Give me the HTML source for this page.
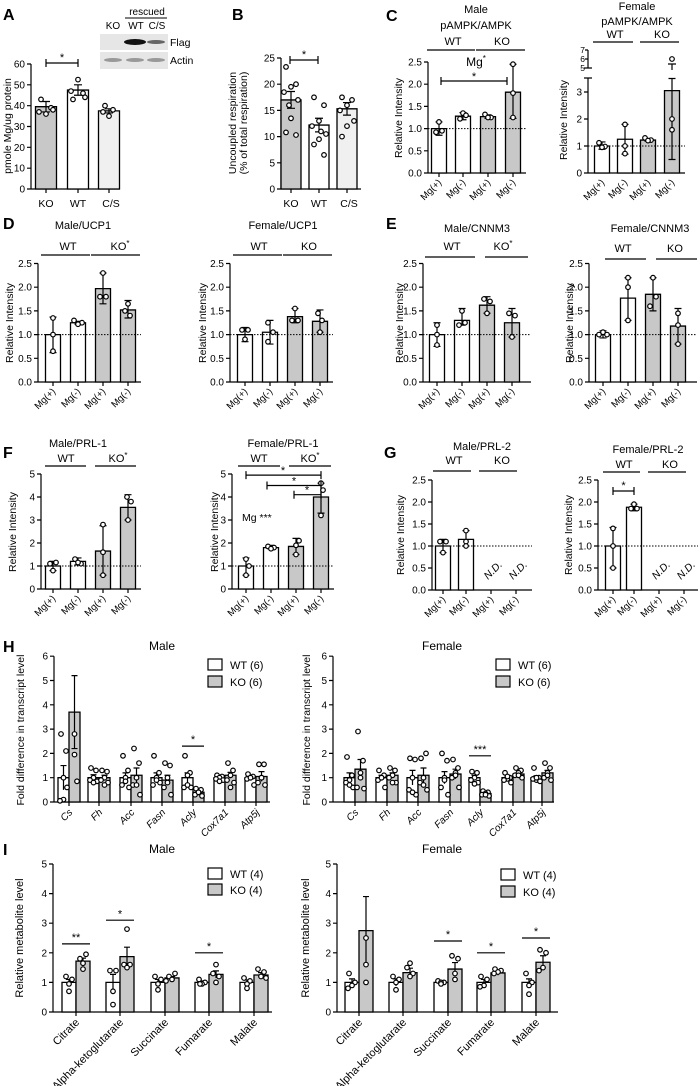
<!DOCTYPE html>
<html><head><meta charset="utf-8"><style>
html,body{margin:0;padding:0;background:#fff;}
svg{display:block;font-family:"Liberation Sans",Arial,sans-serif;}
text{font-size:10px;fill:#000;}
.s rect,.s path{vector-effect:non-scaling-stroke;stroke:#000;stroke-width:1.3;}
.s path{fill:none;stroke-width:1.2;}
.w{fill:#fff}.g{fill:#c8c8c8}.lg{fill:#f0f0f0}
circle{fill:#fff;stroke:#000;stroke-width:1.2;}
.ax{stroke:#000;stroke-width:1.2;fill:none;}
.dt{stroke:#000;stroke-width:1;stroke-dasharray:1.5,1.5;}
.e{text-anchor:end}.m{text-anchor:middle}
.L{font-weight:bold;font-size:16px}
.t{font-size:11px}
.yl{font-size:10.5px;text-anchor:middle}
.mg text{font-size:9.5px;text-anchor:end}
.it{font-style:italic}
</style></head><body>
<svg width="700" height="1086" viewBox="0 0 700 1086" xmlns="http://www.w3.org/2000/svg">
<!-- letters -->
<text x="3" y="20" class="L">A</text><text x="232" y="20" class="L">B</text><text x="386" y="21" class="L">C</text>
<text x="3" y="229" class="L">D</text><text x="386" y="229" class="L">E</text>
<text x="3" y="458" class="L">F</text><text x="384" y="458" class="L">G</text>
<text x="3" y="652" class="L">H</text><text x="3" y="855" class="L">I</text>

<!-- ===== A ===== -->
<g transform="translate(31,189)">
<path class="ax" d="M0,0.6V-125M-4,0H89M-4,-20.8H0M-4,-41.7H0M-4,-62.5H0M-4,-83.3H0M-4,-104.2H0M-4,-125H0M15,0V4M47,0V4M78,0V4"/>
<text x="-6" y="3.5" class="e">0</text><text x="-6" y="-17.3" class="e">10</text><text x="-6" y="-38.2" class="e">20</text><text x="-6" y="-59" class="e">30</text><text x="-6" y="-79.8" class="e">40</text><text x="-6" y="-100.7" class="e">50</text><text x="-6" y="-121.5" class="e">60</text>
<g class="s" transform="scale(1,-2.0833)">
<rect x="4.5" y="0" width="21" height="39.5" class="g"/><rect x="36.5" y="0" width="21" height="47.5" class="w"/><rect x="67.5" y="0" width="21" height="37.5" class="lg"/>
<path d="M15,37V42M11,42H19M11,37H19M47,45V50M43,50H51M43,45H51M78,36.5V38.5M74,38.5H82M74,36.5H82"/>
</g>
<circle cx="10" cy="-89.6" r="2.3"/><circle cx="20" cy="-81.2" r="2.3"/><circle cx="15" cy="-75" r="2.3"/><circle cx="8" cy="-77.1" r="2.3"/><circle cx="22" cy="-79.2" r="2.3"/>
<circle cx="47" cy="-109.4" r="2.3"/><circle cx="52" cy="-95.8" r="2.3"/><circle cx="42" cy="-89.6" r="2.3"/><circle cx="40" cy="-97.9" r="2.3"/><circle cx="54" cy="-91.7" r="2.3"/>
<circle cx="74" cy="-83.3" r="2.3"/><circle cx="82" cy="-79.2" r="2.3"/><circle cx="78" cy="-72.9" r="2.3"/><circle cx="72" cy="-77.1" r="2.3"/>
<path class="ax" d="M15,-126H47M15,-130V-122M47,-130V-122"/>
<text x="31" y="-128" class="m t">*</text>
</g>
<text x="46" y="207" class="m" style="font-size:10.5px">KO</text><text x="78" y="207" class="m" style="font-size:10.5px">WT</text><text x="111" y="207" class="m" style="font-size:10.5px">C/S</text>
<text class="yl" transform="translate(11,126) rotate(-90)">pmole Mg/ug protein</text>
<!-- blot -->
<rect x="100" y="34" width="68" height="35" fill="#e6e6e6"/><rect x="100" y="50" width="68" height="2" fill="#fff"/>
<ellipse cx="135" cy="42" rx="11" ry="3" fill="#111"/><ellipse cx="156" cy="42" rx="9" ry="2" fill="#666"/>
<ellipse cx="113" cy="60" rx="9" ry="2" fill="#999"/><ellipse cx="135" cy="60" rx="9" ry="2" fill="#999"/><ellipse cx="156" cy="60" rx="9" ry="2" fill="#999"/>
<text x="113" y="29" class="m">KO</text><text x="136" y="29" class="m">WT</text><text x="157" y="29" class="m">C/S</text>
<text x="147" y="15" class="m">rescued</text><line x1="125" y1="18" x2="167" y2="18" stroke="#000"/>
<text x="170" y="46" style="font-size:10.5px">Flag</text><text x="170" y="64" style="font-size:10.5px">Actin</text>

<!-- ===== B ===== -->
<g transform="translate(281,189)">
<path class="ax" d="M0,0.6V-131M-4,0H80M-4,-26.2H0M-4,-52.4H0M-4,-78.6H0M-4,-104.8H0M-4,-131H0M10,0V4M38,0V4M66,0V4"/>
<text x="-6" y="3.5" class="e">0</text><text x="-6" y="-22.7" class="e">5</text><text x="-6" y="-48.9" class="e">10</text><text x="-6" y="-75.1" class="e">15</text><text x="-6" y="-101.3" class="e">20</text><text x="-6" y="-127.5" class="e">25</text>
<g class="s" transform="scale(1,-5.24)">
<rect x="0" y="0" width="20" height="17" class="g"/><rect x="28" y="0" width="20" height="12.2" class="w"/><rect x="56" y="0" width="20" height="15.3" class="lg"/>
<path d="M10,15.4V18.6M6,18.6H14M6,15.4H14M38,10.9V13.5M34,13.5H42M34,10.9H42M66,14.1V16.5M62,16.5H70M62,14.1H70"/>
</g>
<circle cx="5" cy="-122.1" r="2.3"/><circle cx="15" cy="-104.8" r="2.3"/><circle cx="10" cy="-102.2" r="2.3"/><circle cx="3" cy="-96.9" r="2.3"/><circle cx="17" cy="-89.1" r="2.3"/><circle cx="10" cy="-70.7" r="2.3"/><circle cx="5" cy="-56.6" r="2.3"/><circle cx="15" cy="-54" r="2.3"/><circle cx="8" cy="-83.8" r="2.3"/>
<circle cx="33" cy="-91.7" r="2.3"/><circle cx="43" cy="-83.8" r="2.3"/><circle cx="38" cy="-68.1" r="2.3"/><circle cx="31" cy="-62.9" r="2.3"/><circle cx="45" cy="-55" r="2.3"/><circle cx="38" cy="-49.8" r="2.3"/><circle cx="33" cy="-44.5" r="2.3"/><circle cx="43" cy="-34.1" r="2.3"/><circle cx="40" cy="-57.6" r="2.3"/>
<circle cx="61" cy="-91.7" r="2.3"/><circle cx="71" cy="-89.1" r="2.3"/><circle cx="66" cy="-83.8" r="2.3"/><circle cx="59" cy="-78.6" r="2.3"/><circle cx="73" cy="-68.1" r="2.3"/><circle cx="66" cy="-62.9" r="2.3"/><circle cx="61" cy="-52.4" r="2.3"/>
<path class="ax" d="M9,-129H37M9,-133V-125M37,-133V-125"/>
<text x="23" y="-131" class="m t">*</text>
</g>
<text x="291" y="207" class="m" style="font-size:10.5px">KO</text><text x="319" y="207" class="m" style="font-size:10.5px">WT</text><text x="349" y="207" class="m" style="font-size:10.5px">C/S</text>
<text class="yl" transform="translate(236,123) rotate(-90)">Uncoupled respiration</text>
<text class="yl" transform="translate(247,123) rotate(-90)">(% of total respiration)</text>

<!-- ===== C male ===== -->
<text x="476" y="13" class="m t">Male</text><text x="476" y="29" class="m t">pAMPK/AMPK</text>
<text x="453" y="45" class="m t">WT</text><text x="502" y="45" class="m t">KO</text>
<path class="ax" d="M427,50H475M476,50H525" stroke-width="1"/>
<text x="476" y="66" class="m" style="font-size:12px">Mg<tspan dy="-5" style="font-size:8px">*</tspan></text>
<g transform="translate(428,173)">
<path class="ax" d="M0,0.6V-111M-4,0H98M-4,-22.2H0M-4,-44.4H0M-4,-66.6H0M-4,-88.8H0M-4,-111H0M11,0V4M35,0V4M60,0V4M85,0V4"/>
<text x="-6" y="3.5" class="e">0.0</text><text x="-6" y="-18.7" class="e">0.5</text><text x="-6" y="-40.9" class="e">1.0</text><text x="-6" y="-63.1" class="e">1.5</text><text x="-6" y="-85.3" class="e">2.0</text><text x="-6" y="-107.5" class="e">2.5</text>
<g class="s" transform="scale(1,-44.4)">
<rect x="3.5" y="0" width="15" height="1" class="w"/><rect x="27.5" y="0" width="15" height="1.28" class="w"/><rect x="52.5" y="0" width="15" height="1.27" class="g"/><rect x="77.5" y="0" width="15" height="1.82" class="g"/>
<path d="M11,0.85V1.15M7.5,1.15H14.5M7.5,0.85H14.5M35,1.2V1.36M31.5,1.36H38.5M31.5,1.2H38.5M60,1.23V1.31M56.5,1.31H63.5M56.5,1.23H63.5M85,1.23V2.45M81.5,2.45H88.5M81.5,1.23H88.5"/>
</g>
<line x1="0" y1="-44.4" x2="98" y2="-44.4" class="dt"/>
<circle cx="11" cy="-51.1" r="2.3"/><circle cx="14" cy="-42.2" r="2.3"/><circle cx="8" cy="-40.8" r="2.3"/>
<circle cx="35" cy="-59.9" r="2.3"/><circle cx="38" cy="-57.7" r="2.3"/><circle cx="32" cy="-54.2" r="2.3"/>
<circle cx="57" cy="-58.6" r="2.3"/><circle cx="63" cy="-55.5" r="2.3"/><circle cx="60" cy="-55.5" r="2.3"/>
<circle cx="85" cy="-108.8" r="2.3"/><circle cx="85" cy="-79.9" r="2.3"/><circle cx="85" cy="-55.5" r="2.3"/>
<path class="ax" d="M13,-92H79M13,-96V-88M79,-96V-88"/>
<text x="46" y="-93" class="m t">*</text>
</g>
<text class="yl" transform="translate(402,118) rotate(-90)">Relative Intensity</text>
<g class="mg"><text x="442" y="183" transform="rotate(-45 442 183)">Mg(+)</text><text x="466" y="183" transform="rotate(-45 466 183)">Mg(-)</text><text x="491" y="183" transform="rotate(-45 491 183)">Mg(+)</text><text x="516" y="183" transform="rotate(-45 516 183)">Mg(-)</text></g>

<!-- ===== C female ===== -->
<text x="637" y="10" class="m t">Female</text><text x="637" y="25" class="m t">pAMPK/AMPK</text>
<text x="615" y="38" class="m t">WT</text><text x="662" y="38" class="m t">KO</text>
<path class="ax" d="M593,42H633M640,42H679" stroke-width="1"/>
<g transform="translate(588,173)">
<path class="ax" d="M0,0.6V-95M-4,-95H4M0,-105V-123M-4,-105H4M-4,0H97M-4,-27H0M-4,-54H0M-4,-81H0M-3,-114H0M-3,-123H0"/>
<text x="-6" y="3.5" class="e">0</text><text x="-6" y="-23.5" class="e">1</text><text x="-6" y="-50.5" class="e">2</text><text x="-6" y="-77.5" class="e">3</text>
<text x="-3" y="-102" class="e" style="font-size:8.5px">5</text><text x="-3" y="-111" class="e" style="font-size:8.5px">6</text><text x="-3" y="-120" class="e" style="font-size:8.5px">7</text>
<g class="s" transform="scale(1,-27)">
<rect x="6.5" y="0" width="15" height="1" class="w"/><rect x="29.5" y="0" width="15" height="1.25" class="w"/><rect x="52.5" y="0" width="15" height="1.22" class="g"/><rect x="76.5" y="0" width="15" height="3.05" class="g"/>
<path d="M14,0.88V1.15M10.5,1.15H17.5M10.5,0.88H17.5M37,0.7V1.8M33.5,1.8H40.5M33.5,0.7H40.5M60,1.18V1.28M56.5,1.28H63.5M56.5,1.18H63.5M84,0.5V3.5M80.5,3.5H87.5M80.5,0.5H87.5"/>
</g>
<line x1="0" y1="-27" x2="97" y2="-27" class="dt"/>
<circle cx="11" cy="-30.2" r="2.3"/><circle cx="17" cy="-26.5" r="2.3"/><circle cx="14" cy="-25.7" r="2.3"/>
<circle cx="37" cy="-48.6" r="2.3"/><circle cx="37" cy="-27" r="2.3"/><circle cx="37" cy="-19.4" r="2.3"/>
<circle cx="57" cy="-35.1" r="2.3"/><circle cx="63" cy="-32.9" r="2.3"/><circle cx="60" cy="-32.4" r="2.3"/>
<circle cx="84" cy="-54" r="2.3"/><circle cx="84" cy="-43.2" r="2.3"/>
<path class="ax" d="M84,-109V-103M80,-109H88"/><circle cx="84" cy="-114" r="2.3"/>
</g>
<text class="yl" transform="translate(567,120) rotate(-90)">Relative Intensity</text>
<g class="mg"><text x="605" y="183" transform="rotate(-45 605 183)">Mg(+)</text><text x="628" y="183" transform="rotate(-45 628 183)">Mg(-)</text><text x="651" y="183" transform="rotate(-45 651 183)">Mg(+)</text><text x="675" y="183" transform="rotate(-45 675 183)">Mg(-)</text></g>

<!-- ===== D male ===== -->
<text x="83" y="229" class="m t">Male/UCP1</text><text x="68" y="250" class="m t">WT</text><text x="120" y="250" class="m t">KO<tspan dy="-4" style="font-size:8px">*</tspan></text>
<path class="ax" d="M41,255H90M91,255H140" stroke-width="1"/>
<g transform="translate(38,382)">
<path class="ax" d="M0,0.6V-118.5M-4,0H103M-4,-23.7H0M-4,-47.4H0M-4,-71.1H0M-4,-94.8H0M-4,-118.5H0M15,0V4M40,0V4M65,0V4M90,0V4"/>
<text x="-6" y="3.5" class="e">0.0</text><text x="-6" y="-20.2" class="e">0.5</text><text x="-6" y="-43.9" class="e">1.0</text><text x="-6" y="-67.6" class="e">1.5</text><text x="-6" y="-91.3" class="e">2.0</text><text x="-6" y="-115" class="e">2.5</text>
<g class="s" transform="scale(1,-47.4)">
<rect x="7.5" y="0" width="15" height="1" class="w"/><rect x="32.5" y="0" width="15" height="1.25" class="w"/><rect x="57.5" y="0" width="15" height="1.97" class="g"/><rect x="82.5" y="0" width="15" height="1.52" class="g"/>
<path d="M15,0.62V1.37M11.5,1.37H18.5M11.5,0.62H18.5M40,1.22V1.28M36.5,1.28H43.5M36.5,1.22H43.5M65,1.65V2.3M61.5,2.3H68.5M61.5,1.65H68.5M90,1.35V1.72M86.5,1.72H93.5M86.5,1.35H93.5"/>
</g>
<line x1="0" y1="-47.4" x2="103" y2="-47.4" class="dt"/>
<circle cx="15" cy="-30.8" r="2.3"/><circle cx="15" cy="-47.4" r="2.3"/><circle cx="15" cy="-64" r="2.3"/>
<circle cx="36" cy="-61.6" r="2.3"/><circle cx="44" cy="-59.3" r="2.3"/><circle cx="40" cy="-57.8" r="2.3"/>
<circle cx="65" cy="-109" r="2.3"/><circle cx="62" cy="-85.3" r="2.3"/><circle cx="68" cy="-85.3" r="2.3"/>
<circle cx="90" cy="-78.2" r="2.3"/><circle cx="87" cy="-71.1" r="2.3"/><circle cx="92" cy="-66.4" r="2.3"/>
</g>
<text class="yl" transform="translate(13,323) rotate(-90)">Relative Intensity</text>
<g class="mg"><text x="56" y="392" transform="rotate(-45 56 392)">Mg(+)</text><text x="81" y="392" transform="rotate(-45 81 392)">Mg(-)</text><text x="106" y="392" transform="rotate(-45 106 392)">Mg(+)</text><text x="131" y="392" transform="rotate(-45 131 392)">Mg(-)</text></g>

<!-- ===== D female ===== -->
<text x="283" y="229" class="m t">Female/UCP1</text><text x="259" y="250" class="m t">WT</text><text x="309" y="250" class="m t">KO</text>
<path class="ax" d="M233,255H282M283,255H332" stroke-width="1"/>
<g transform="translate(230,382)">
<path class="ax" d="M0,0.6V-118.5M-4,0H103M-4,-23.7H0M-4,-47.4H0M-4,-71.1H0M-4,-94.8H0M-4,-118.5H0M15,0V4M40,0V4M65,0V4M90,0V4"/>
<text x="-6" y="3.5" class="e">0.0</text><text x="-6" y="-20.2" class="e">0.5</text><text x="-6" y="-43.9" class="e">1.0</text><text x="-6" y="-67.6" class="e">1.5</text><text x="-6" y="-91.3" class="e">2.0</text><text x="-6" y="-115" class="e">2.5</text>
<g class="s" transform="scale(1,-47.4)">
<rect x="7.5" y="0" width="15" height="1" class="w"/><rect x="32.5" y="0" width="15" height="1.05" class="w"/><rect x="57.5" y="0" width="15" height="1.38" class="g"/><rect x="82.5" y="0" width="15" height="1.28" class="g"/>
<path d="M15,0.85V1.15M11.5,1.15H18.5M11.5,0.85H18.5M40,0.8V1.3M36.5,1.3H43.5M36.5,0.8H43.5M65,1.25V1.55M61.5,1.55H68.5M61.5,1.25H68.5M90,1.05V1.52M86.5,1.52H93.5M86.5,1.05H93.5"/>
</g>
<line x1="0" y1="-47.4" x2="103" y2="-47.4" class="dt"/>
<circle cx="12" cy="-52.1" r="2.3"/><circle cx="18" cy="-52.1" r="2.3"/><circle cx="15" cy="-42.7" r="2.3"/>
<circle cx="38" cy="-59.3" r="2.3"/><circle cx="38" cy="-40.3" r="2.3"/><circle cx="43" cy="-49.8" r="2.3"/>
<circle cx="65" cy="-73.5" r="2.3"/><circle cx="62" cy="-61.6" r="2.3"/><circle cx="68" cy="-61.6" r="2.3"/>
<circle cx="88" cy="-68.7" r="2.3"/><circle cx="92" cy="-61.6" r="2.3"/><circle cx="90" cy="-49.8" r="2.3"/>
</g>
<text class="yl" transform="translate(206,323) rotate(-90)">Relative Intensity</text>
<g class="mg"><text x="248" y="392" transform="rotate(-45 248 392)">Mg(+)</text><text x="273" y="392" transform="rotate(-45 273 392)">Mg(-)</text><text x="298" y="392" transform="rotate(-45 298 392)">Mg(+)</text><text x="323" y="392" transform="rotate(-45 323 392)">Mg(-)</text></g>

<!-- ===== E male ===== -->
<text x="477" y="232" class="m t">Male/CNNM3</text><text x="452" y="250" class="m t">WT</text><text x="503" y="250" class="m t">KO<tspan dy="-4" style="font-size:8px">*</tspan></text>
<path class="ax" d="M425,257H475M485,257H528" stroke-width="1"/>
<g transform="translate(423,382)">
<path class="ax" d="M0,0.6V-118.5M-4,0H108M-4,-23.7H0M-4,-47.4H0M-4,-71.1H0M-4,-94.8H0M-4,-118.5H0M14,0V4M39,0V4M64,0V4M89,0V4"/>
<text x="-6" y="3.5" class="e">0.0</text><text x="-6" y="-20.2" class="e">0.5</text><text x="-6" y="-43.9" class="e">1.0</text><text x="-6" y="-67.6" class="e">1.5</text><text x="-6" y="-91.3" class="e">2.0</text><text x="-6" y="-115" class="e">2.5</text>
<g class="s" transform="scale(1,-47.4)">
<rect x="6.5" y="0" width="15" height="1" class="w"/><rect x="31.5" y="0" width="15" height="1.3" class="w"/><rect x="56.5" y="0" width="15" height="1.62" class="g"/><rect x="81.5" y="0" width="15" height="1.25" class="g"/>
<path d="M14,0.75V1.25M10.5,1.25H17.5M10.5,0.75H17.5M39,1.2V1.55M35.5,1.55H42.5M35.5,1.2H42.5M64,1.45V1.8M60.5,1.8H67.5M60.5,1.45H67.5M89,0.95V1.55M85.5,1.55H92.5M85.5,0.95H92.5"/>
</g>
<line x1="0" y1="-47.4" x2="108" y2="-47.4" class="dt"/>
<circle cx="14" cy="-56.9" r="2.3"/><circle cx="14" cy="-47.4" r="2.3"/><circle cx="14" cy="-37" r="2.3"/>
<circle cx="39" cy="-71.1" r="2.3"/><circle cx="36" cy="-56.9" r="2.3"/><circle cx="42" cy="-59.3" r="2.3"/>
<circle cx="61" cy="-83" r="2.3"/><circle cx="67" cy="-80.6" r="2.3"/><circle cx="64" cy="-68.7" r="2.3"/>
<circle cx="86" cy="-68.7" r="2.3"/><circle cx="92" cy="-66.4" r="2.3"/><circle cx="89" cy="-45" r="2.3"/>
</g>
<text class="yl" transform="translate(403,323) rotate(-90)">Relative Intensity</text>
<g class="mg"><text x="440" y="392" transform="rotate(-45 440 392)">Mg(+)</text><text x="465" y="392" transform="rotate(-45 465 392)">Mg(-)</text><text x="490" y="392" transform="rotate(-45 490 392)">Mg(+)</text><text x="515" y="392" transform="rotate(-45 515 392)">Mg(-)</text></g>

<!-- ===== E female ===== -->
<text x="650" y="232" class="m t">Female/CNNM3</text><text x="623" y="252" class="m t">WT</text><text x="675" y="252" class="m t">KO</text>
<path class="ax" d="M605,259H646M656,259H697" stroke-width="1"/>
<g transform="translate(589,382)">
<path class="ax" d="M0,0.6V-118.5M-4,0H108M-4,-23.7H0M-4,-47.4H0M-4,-71.1H0M-4,-94.8H0M-4,-118.5H0M14,0V4M39,0V4M64,0V4M89,0V4"/>
<text x="-6" y="3.5" class="e">0.0</text><text x="-6" y="-20.2" class="e">0.5</text><text x="-6" y="-43.9" class="e">1.0</text><text x="-6" y="-67.6" class="e">1.5</text><text x="-6" y="-91.3" class="e">2.0</text><text x="-6" y="-115" class="e">2.5</text>
<g class="s" transform="scale(1,-47.4)">
<rect x="6.5" y="0" width="15" height="1" class="w"/><rect x="31.5" y="0" width="15" height="1.77" class="w"/><rect x="56.5" y="0" width="15" height="1.85" class="g"/><rect x="81.5" y="0" width="15" height="1.18" class="g"/>
<path d="M14,0.93V1.08M10.5,1.08H17.5M10.5,0.93H17.5M39,1.3V2.2M35.5,2.2H42.5M35.5,1.3H42.5M64,1.5V2.2M60.5,2.2H67.5M60.5,1.5H67.5M89,0.8V1.55M85.5,1.55H92.5M85.5,0.8H92.5"/>
</g>
<line x1="0" y1="-47.4" x2="108" y2="-47.4" class="dt"/>
<circle cx="14" cy="-49.8" r="2.3"/><circle cx="10" cy="-47.4" r="2.3"/><circle cx="18" cy="-47.4" r="2.3"/>
<circle cx="39" cy="-94.8" r="2.3"/><circle cx="39" cy="-104.3" r="2.3"/><circle cx="39" cy="-61.6" r="2.3"/>
<circle cx="64" cy="-104.3" r="2.3"/><circle cx="61" cy="-75.8" r="2.3"/><circle cx="67" cy="-85.3" r="2.3"/>
<circle cx="89" cy="-68.7" r="2.3"/><circle cx="89" cy="-56.9" r="2.3"/><circle cx="89" cy="-37.9" r="2.3"/>
</g>
<text class="yl" transform="translate(573,323) rotate(-90)">Relative Intensity</text>
<g class="mg"><text x="606" y="392" transform="rotate(-45 606 392)">Mg(+)</text><text x="631" y="392" transform="rotate(-45 631 392)">Mg(-)</text><text x="656" y="392" transform="rotate(-45 656 392)">Mg(+)</text><text x="681" y="392" transform="rotate(-45 681 392)">Mg(-)</text></g>

<!-- ===== F male ===== -->
<text x="78" y="447" class="m t">Male/PRL-1</text><text x="66" y="462" class="m t">WT</text><text x="118" y="462" class="m t">KO<tspan dy="-4" style="font-size:8px">*</tspan></text>
<path class="ax" d="M45,466H86M95,466H136" stroke-width="1"/>
<g transform="translate(41,589)">
<path class="ax" d="M0,0.6V-115M-4,0H100M-4,-23H0M-4,-46H0M-4,-69H0M-4,-92H0M-4,-115H0M12,0V4M37,0V4M62,0V4M87,0V4"/>
<text x="-6" y="3.5" class="e">0</text><text x="-6" y="-19.5" class="e">1</text><text x="-6" y="-42.5" class="e">2</text><text x="-6" y="-65.5" class="e">3</text><text x="-6" y="-88.5" class="e">4</text><text x="-6" y="-111.5" class="e">5</text>
<g class="s" transform="scale(1,-23)">
<rect x="4.5" y="0" width="15" height="1" class="w"/><rect x="29.5" y="0" width="15" height="1.2" class="w"/><rect x="54.5" y="0" width="15" height="1.65" class="g"/><rect x="79.5" y="0" width="15" height="3.55" class="g"/>
<path d="M12,0.8V1.2M8.5,1.2H15.5M8.5,0.8H15.5M37,1.05V1.35M33.5,1.35H40.5M33.5,1.05H40.5M62,0.6V2.75M58.5,2.75H65.5M58.5,0.6H65.5M87,3V4.1M83.5,4.1H90.5M83.5,3H90.5"/>
</g>
<line x1="0" y1="-23" x2="100" y2="-23" class="dt"/>
<circle cx="9" cy="-25.3" r="2.3"/><circle cx="15" cy="-26.5" r="2.3"/><circle cx="12" cy="-18.4" r="2.3"/>
<circle cx="34" cy="-29.9" r="2.3"/><circle cx="40" cy="-25.3" r="2.3"/><circle cx="37" cy="-26.5" r="2.3"/>
<circle cx="62" cy="-64.4" r="2.3"/><circle cx="62" cy="-36.8" r="2.3"/><circle cx="62" cy="-13.8" r="2.3"/>
<circle cx="86" cy="-92" r="2.3"/><circle cx="90" cy="-87.4" r="2.3"/><circle cx="87" cy="-69" r="2.3"/>
</g>
<text class="yl" transform="translate(16,532) rotate(-90)">Relative Intensity</text>
<g class="mg"><text x="56" y="599" transform="rotate(-45 56 599)">Mg(+)</text><text x="81" y="599" transform="rotate(-45 81 599)">Mg(-)</text><text x="106" y="599" transform="rotate(-45 106 599)">Mg(+)</text><text x="131" y="599" transform="rotate(-45 131 599)">Mg(-)</text></g>

<!-- ===== F female ===== -->
<text x="283" y="447" class="m t">Female/PRL-1</text><text x="259" y="462" class="m t">WT</text><text x="310" y="462" class="m t">KO<tspan dy="-4" style="font-size:8px">*</tspan></text>
<path class="ax" d="M238,466H280M289,466H331" stroke-width="1"/>
<g transform="translate(232,589)">
<path class="ax" d="M0,0.6V-115M-4,0H102M-4,-23H0M-4,-46H0M-4,-69H0M-4,-92H0M-4,-115H0M14,0V4M39,0V4M64,0V4M89,0V4"/>
<text x="-6" y="3.5" class="e">0</text><text x="-6" y="-19.5" class="e">1</text><text x="-6" y="-42.5" class="e">2</text><text x="-6" y="-65.5" class="e">3</text><text x="-6" y="-88.5" class="e">4</text><text x="-6" y="-111.5" class="e">5</text>
<g class="s" transform="scale(1,-23)">
<rect x="6.5" y="0" width="15" height="1" class="w"/><rect x="31.5" y="0" width="15" height="1.8" class="w"/><rect x="56.5" y="0" width="15" height="1.85" class="g"/><rect x="81.5" y="0" width="15" height="4" class="g"/>
<path d="M14,0.6V1.35M10.5,1.35H17.5M10.5,0.6H17.5M39,1.75V1.9M35.5,1.9H42.5M35.5,1.75H42.5M64,1.5V2.2M60.5,2.2H67.5M60.5,1.5H67.5M89,3.3V4.6M85.5,4.6H92.5M85.5,3.3H92.5"/>
</g>
<line x1="0" y1="-23" x2="102" y2="-23" class="dt"/>
<circle cx="14" cy="-29.9" r="2.3"/><circle cx="17" cy="-23" r="2.3"/><circle cx="14" cy="-13.8" r="2.3"/>
<circle cx="36" cy="-42.6" r="2.3"/><circle cx="42" cy="-41.4" r="2.3"/><circle cx="39" cy="-40.3" r="2.3"/>
<circle cx="67" cy="-48.3" r="2.3"/><circle cx="64" cy="-43.7" r="2.3"/><circle cx="64" cy="-34.5" r="2.3"/>
<circle cx="89" cy="-105.8" r="2.3"/><circle cx="91" cy="-98.9" r="2.3"/><circle cx="89" cy="-73.6" r="2.3"/>
<path class="ax" d="M14,-113.9H89M14,-117.9V-109.9M89,-117.9V-109.9M35,-103.5H89M35,-107.5V-99.5M89,-107.5V-99.5M62,-94.3H89M62,-98.3V-90.3M89,-98.3V-90.3"/>
<text x="51" y="-115" class="m t">*</text><text x="62" y="-104.5" class="m t">*</text><text x="75" y="-95.3" class="m t">*</text>
</g>
<text x="242" y="521" style="font-size:10.5px">Mg ***</text>
<text class="yl" transform="translate(218,532) rotate(-90)">Relative Intensity</text>
<g class="mg"><text x="249" y="599" transform="rotate(-45 249 599)">Mg(+)</text><text x="274" y="599" transform="rotate(-45 274 599)">Mg(-)</text><text x="299" y="599" transform="rotate(-45 299 599)">Mg(+)</text><text x="324" y="599" transform="rotate(-45 324 599)">Mg(-)</text></g>

<!-- ===== G male ===== -->
<text x="482" y="450" class="m t">Male/PRL-2</text><text x="454" y="464" class="m t">WT</text><text x="502" y="464" class="m t">KO</text>
<path class="ax" d="M433,471H471M479,471H517" stroke-width="1"/>
<g transform="translate(432,590)">
<path class="ax" d="M0,0.6V-110M-4,0H100M-4,-22H0M-4,-44H0M-4,-66H0M-4,-88H0M-4,-110H0M11,0V4M34,0V4M59,0V4M84,0V4"/>
<text x="-6" y="3.5" class="e">0.0</text><text x="-6" y="-18.5" class="e">0.5</text><text x="-6" y="-40.5" class="e">1.0</text><text x="-6" y="-62.5" class="e">1.5</text><text x="-6" y="-84.5" class="e">2.0</text><text x="-6" y="-106.5" class="e">2.5</text>
<g class="s" transform="scale(1,-44)">
<rect x="3.5" y="0" width="15" height="1" class="w"/><rect x="26.5" y="0" width="15" height="1.15" class="w"/>
<path d="M11,0.85V1.15M7.5,1.15H14.5M7.5,0.85H14.5M34,1V1.35M30.5,1.35H37.5M30.5,1H37.5"/>
</g>
<line x1="0" y1="-44" x2="100" y2="-44" class="dt"/>
<circle cx="8" cy="-48.4" r="2.3"/><circle cx="14" cy="-48.4" r="2.3"/><circle cx="11" cy="-37.4" r="2.3"/>
<circle cx="34" cy="-59.4" r="2.3"/><circle cx="34" cy="-48.4" r="2.3"/><circle cx="34" cy="-44" r="2.3"/>
</g>
<text x="488" y="580" class="it" transform="rotate(-45 488 580)" style="font-size:10.5px">N.D.</text><text x="513" y="580" class="it" transform="rotate(-45 513 580)" style="font-size:10.5px">N.D.</text>
<text class="yl" transform="translate(404,535) rotate(-90)">Relative Intensity</text>
<g class="mg"><text x="446" y="600" transform="rotate(-45 446 600)">Mg(+)</text><text x="469" y="600" transform="rotate(-45 469 600)">Mg(-)</text><text x="494" y="600" transform="rotate(-45 494 600)">Mg(+)</text><text x="519" y="600" transform="rotate(-45 519 600)">Mg(-)</text></g>

<!-- ===== G female ===== -->
<text x="648" y="453" class="m t">Female/PRL-2</text><text x="624" y="468" class="m t">WT</text><text x="670" y="468" class="m t">KO</text>
<path class="ax" d="M603,472H640M648,472H686" stroke-width="1"/>
<g transform="translate(598,590)">
<path class="ax" d="M0,0.6V-110M-4,0H100M-4,-22H0M-4,-44H0M-4,-66H0M-4,-88H0M-4,-110H0M15,0V4M36,0V4M61,0V4M86,0V4"/>
<text x="-6" y="3.5" class="e">0.0</text><text x="-6" y="-18.5" class="e">0.5</text><text x="-6" y="-40.5" class="e">1.0</text><text x="-6" y="-62.5" class="e">1.5</text><text x="-6" y="-84.5" class="e">2.0</text><text x="-6" y="-106.5" class="e">2.5</text>
<g class="s" transform="scale(1,-44)">
<rect x="7.5" y="0" width="15" height="1" class="w"/><rect x="28.5" y="0" width="15" height="1.88" class="w"/>
<path d="M15,0.5V1.42M11.5,1.42H18.5M11.5,0.5H18.5M36,1.8V1.95M32.5,1.95H39.5M32.5,1.8H39.5"/>
</g>
<line x1="0" y1="-44" x2="100" y2="-44" class="dt"/>
<circle cx="15" cy="-61.6" r="2.3"/><circle cx="15" cy="-44" r="2.3"/><circle cx="15" cy="-22" r="2.3"/>
<circle cx="36" cy="-85.8" r="2.3"/><circle cx="33" cy="-81.4" r="2.3"/><circle cx="39" cy="-81.4" r="2.3"/>
<path class="ax" d="M15,-99H36M15,-103V-95M36,-103V-95"/>
<text x="25.5" y="-101" class="m t">*</text>
</g>
<text x="656" y="580" class="it" transform="rotate(-45 656 580)" style="font-size:10.5px">N.D.</text><text x="681" y="580" class="it" transform="rotate(-45 681 580)" style="font-size:10.5px">N.D.</text>
<text class="yl" transform="translate(572,535) rotate(-90)">Relative Intensity</text>
<g class="mg"><text x="616" y="600" transform="rotate(-45 616 600)">Mg(+)</text><text x="637" y="600" transform="rotate(-45 637 600)">Mg(-)</text><text x="662" y="600" transform="rotate(-45 662 600)">Mg(+)</text><text x="687" y="600" transform="rotate(-45 687 600)">Mg(-)</text></g>

<!-- ===== H ===== -->
<text x="162" y="650" class="m" style="font-size:12px">Male</text><text x="442" y="650" class="m" style="font-size:12px">Female</text>
<rect x="208" y="659" width="14" height="11" fill="#fff" stroke="#000" stroke-width="1.2"/><rect x="208" y="676" width="14" height="11" fill="#c8c8c8" stroke="#000" stroke-width="1.2"/>
<text x="230" y="669" class="t">WT (6)</text><text x="230" y="686" class="t">KO (6)</text>
<rect x="496" y="659" width="14" height="11" fill="#fff" stroke="#000" stroke-width="1.2"/><rect x="496" y="676" width="14" height="11" fill="#c8c8c8" stroke="#000" stroke-width="1.2"/>
<text x="518" y="669" class="t">WT (6)</text><text x="518" y="686" class="t">KO (6)</text>

<g transform="translate(54,802)">
<path class="ax" d="M0,0.6V-145.8M-4,0H216M-4,-24.3H0M-4,-48.6H0M-4,-72.9H0M-4,-97.2H0M-4,-121.5H0M-4,-145.8H0M15,0V4M45,0V4M77,0V4M108,0V4M139,0V4M171,0V4M202,0V4"/>
<text x="-6" y="3.5" class="e">0</text><text x="-6" y="-20.8" class="e">1</text><text x="-6" y="-45.1" class="e">2</text><text x="-6" y="-69.4" class="e">3</text><text x="-6" y="-93.7" class="e">4</text><text x="-6" y="-118" class="e">5</text><text x="-6" y="-142.3" class="e">6</text>
<g class="s" transform="scale(1,-24.3)">
<rect x="4" y="0" width="11" height="1" class="w"/><rect x="15" y="0" width="11" height="3.7" class="g"/>
<rect x="34" y="0" width="11" height="1" class="w"/><rect x="45" y="0" width="11" height="1" class="g"/>
<rect x="66" y="0" width="11" height="1" class="w"/><rect x="77" y="0" width="11" height="1.1" class="g"/>
<rect x="97" y="0" width="11" height="1" class="w"/><rect x="108" y="0" width="11" height="0.9" class="g"/>
<rect x="128" y="0" width="11" height="1" class="w"/><rect x="139" y="0" width="11" height="0.4" class="g"/>
<rect x="160" y="0" width="11" height="1" class="w"/><rect x="171" y="0" width="11" height="1.1" class="g"/>
<rect x="191" y="0" width="11" height="1" class="w"/><rect x="202" y="0" width="11" height="1.05" class="g"/>
<path d="M9.5,0.5V1.5M6.5,1.5H12.5M20.5,2.2V5.2M17.5,5.2H23.5M17.5,2.2H23.5M39.5,0.88V1.12M36.5,1.12H42.5M50.5,0.9V1.1M47.5,1.1H53.5M71.5,0.8V1.2M68.5,1.2H74.5M82.5,0.8V1.4M79.5,1.4H85.5M102.5,0.8V1.2M99.5,1.2H105.5M113.5,0.7V1.1M110.5,1.1H116.5M133.5,0.8V1.2M130.5,1.2H136.5M144.5,0.32V0.48M141.5,0.48H147.5M165.5,0.95V1.05M162.5,1.05H168.5M176.5,0.98V1.22M173.5,1.22H179.5M196.5,0.95V1.05M193.5,1.05H199.5M207.5,0.85V1.25M204.5,1.25H210.5"/>
</g>
<circle cx="7" cy="-68" r="2.3"/><circle cx="12" cy="-51" r="2.3"/><circle cx="9.5" cy="-2.4" r="2.3"/><circle cx="6" cy="-1.2" r="2.3"/><circle cx="13" cy="-14.6" r="2.3"/><circle cx="9.5" cy="-24.3" r="2.3"/>
<circle cx="20.5" cy="-68" r="2.3"/><circle cx="20.5" cy="-47.4" r="2.3"/><circle cx="23" cy="-20.7" r="2.3"/>
<circle cx="37" cy="-34" r="2.3"/><circle cx="42" cy="-31.6" r="2.3"/><circle cx="39.5" cy="-24.3" r="2.3"/><circle cx="36" cy="-21.9" r="2.3"/><circle cx="43" cy="-20.7" r="2.3"/><circle cx="39.5" cy="-19.4" r="2.3"/>
<circle cx="48" cy="-31.6" r="2.3"/><circle cx="53" cy="-30.4" r="2.3"/><circle cx="50.5" cy="-24.3" r="2.3"/><circle cx="47" cy="-21.9" r="2.3"/><circle cx="54" cy="-19.4" r="2.3"/><circle cx="50.5" cy="-17" r="2.3"/>
<circle cx="69" cy="-46.2" r="2.3"/><circle cx="74" cy="-31.6" r="2.3"/><circle cx="71.5" cy="-24.3" r="2.3"/><circle cx="68" cy="-17" r="2.3"/><circle cx="75" cy="-14.6" r="2.3"/><circle cx="71.5" cy="-20.7" r="2.3"/>
<circle cx="80" cy="-53.5" r="2.3"/><circle cx="85" cy="-38.9" r="2.3"/><circle cx="82.5" cy="-24.3" r="2.3"/><circle cx="79" cy="-17" r="2.3"/><circle cx="86" cy="-7.3" r="2.3"/><circle cx="82.5" cy="-17" r="2.3"/>
<circle cx="100" cy="-46.2" r="2.3"/><circle cx="105" cy="-29.2" r="2.3"/><circle cx="102.5" cy="-24.3" r="2.3"/><circle cx="99" cy="-17" r="2.3"/><circle cx="106" cy="-19.4" r="2.3"/><circle cx="102.5" cy="-21.9" r="2.3"/>
<circle cx="111" cy="-38.9" r="2.3"/><circle cx="116" cy="-36.5" r="2.3"/><circle cx="113.5" cy="-24.3" r="2.3"/><circle cx="110" cy="-14.6" r="2.3"/><circle cx="117" cy="-7.3" r="2.3"/><circle cx="113.5" cy="-19.4" r="2.3"/>
<circle cx="131" cy="-46.2" r="2.3"/><circle cx="136" cy="-29.2" r="2.3"/><circle cx="133.5" cy="-26.7" r="2.3"/><circle cx="130" cy="-14.6" r="2.3"/><circle cx="137" cy="-14.6" r="2.3"/><circle cx="133.5" cy="-17" r="2.3"/>
<circle cx="142" cy="-13.4" r="2.3"/><circle cx="147" cy="-12.2" r="2.3"/><circle cx="144.5" cy="-9.7" r="2.3"/><circle cx="141" cy="-7.3" r="2.3"/><circle cx="148" cy="-6.1" r="2.3"/><circle cx="144.5" cy="-9.7" r="2.3"/>
<circle cx="163" cy="-26.7" r="2.3"/><circle cx="168" cy="-25.5" r="2.3"/><circle cx="165.5" cy="-24.3" r="2.3"/><circle cx="162" cy="-23.1" r="2.3"/><circle cx="169" cy="-21.9" r="2.3"/><circle cx="165.5" cy="-20.7" r="2.3"/>
<circle cx="174" cy="-38.9" r="2.3"/><circle cx="179" cy="-31.6" r="2.3"/><circle cx="176.5" cy="-26.7" r="2.3"/><circle cx="173" cy="-21.9" r="2.3"/><circle cx="180" cy="-19.4" r="2.3"/><circle cx="176.5" cy="-14.6" r="2.3"/>
<circle cx="194" cy="-27.9" r="2.3"/><circle cx="199" cy="-25.5" r="2.3"/><circle cx="196.5" cy="-24.3" r="2.3"/><circle cx="193" cy="-23.1" r="2.3"/><circle cx="200" cy="-17" r="2.3"/><circle cx="196.5" cy="-24.3" r="2.3"/>
<circle cx="205" cy="-37.7" r="2.3"/><circle cx="210" cy="-37.7" r="2.3"/><circle cx="207.5" cy="-24.3" r="2.3"/><circle cx="204" cy="-19.4" r="2.3"/><circle cx="211" cy="-17" r="2.3"/><circle cx="207.5" cy="-24.3" r="2.3"/>
<path class="ax" d="M128,-55.9H150"/><text x="139" y="-59" class="m t">*</text>
</g>
<text class="yl" transform="translate(24,730) rotate(-90)">Fold difference in transcript level</text>
<g class="it"><text x="73" y="813" class="e" transform="rotate(-45 73 813)">Cs</text><text x="103" y="813" class="e" transform="rotate(-45 103 813)">Fh</text><text x="135" y="813" class="e" transform="rotate(-45 135 813)">Acc</text><text x="166" y="813" class="e" transform="rotate(-45 166 813)">Fasn</text><text x="197" y="813" class="e" transform="rotate(-45 197 813)">Acly</text><text x="229" y="813" class="e" transform="rotate(-45 229 813)">Cox7a1</text><text x="260" y="813" class="e" transform="rotate(-45 260 813)">Atp5j</text></g>

<g transform="translate(333,802)">
<path class="ax" d="M0,0.6V-145.8M-4,0H221M-4,-24.3H0M-4,-48.6H0M-4,-72.9H0M-4,-97.2H0M-4,-121.5H0M-4,-145.8H0M22,0V4M54,0V4M85,0V4M117,0V4M147,0V4M180,0V4M209,0V4"/>
<text x="-6" y="3.5" class="e">0</text><text x="-6" y="-20.8" class="e">1</text><text x="-6" y="-45.1" class="e">2</text><text x="-6" y="-69.4" class="e">3</text><text x="-6" y="-93.7" class="e">4</text><text x="-6" y="-118" class="e">5</text><text x="-6" y="-142.3" class="e">6</text>
<g class="s" transform="scale(1,-24.3)">
<rect x="11" y="0" width="11" height="1" class="w"/><rect x="22" y="0" width="11" height="1.35" class="g"/>
<rect x="43" y="0" width="11" height="1" class="w"/><rect x="54" y="0" width="11" height="1.1" class="g"/>
<rect x="74" y="0" width="11" height="1" class="w"/><rect x="85" y="0" width="11" height="1.1" class="g"/>
<rect x="106" y="0" width="11" height="1" class="w"/><rect x="117" y="0" width="11" height="1.15" class="g"/>
<rect x="136" y="0" width="11" height="1" class="w"/><rect x="147" y="0" width="11" height="0.35" class="g"/>
<rect x="169" y="0" width="11" height="1" class="w"/><rect x="180" y="0" width="11" height="1.15" class="g"/>
<rect x="198" y="0" width="11" height="1" class="w"/><rect x="209" y="0" width="11" height="1.2" class="g"/>
<path d="M16.5,0.8V1.2M13.5,1.2H19.5M27.5,0.95V1.75M24.5,1.75H30.5M48.5,0.9V1.1M45.5,1.1H51.5M59.5,1V1.2M56.5,1.2H62.5M79.5,0.7V1.3M76.5,1.3H82.5M90.5,0.8V1.4M87.5,1.4H93.5M111.5,0.75V1.25M108.5,1.25H114.5M122.5,0.95V1.35M119.5,1.35H125.5M141.5,0.9V1.1M138.5,1.1H144.5M152.5,0.3V0.4M149.5,0.4H155.5M174.5,0.95V1.05M171.5,1.05H177.5M185.5,1.1V1.2M182.5,1.2H188.5M203.5,0.92V1.08M200.5,1.08H206.5M214.5,1.1V1.3M211.5,1.3H217.5"/>
</g>
<circle cx="14" cy="-45" r="2.3"/><circle cx="19" cy="-26.7" r="2.3"/><circle cx="16.5" cy="-21.9" r="2.3"/><circle cx="13" cy="-19.4" r="2.3"/><circle cx="20" cy="-14.6" r="2.3"/><circle cx="16.5" cy="-17" r="2.3"/>
<circle cx="25" cy="-70.5" r="2.3"/><circle cx="30" cy="-41.3" r="2.3"/><circle cx="27.5" cy="-29.2" r="2.3"/><circle cx="24" cy="-14.6" r="2.3"/><circle cx="31" cy="-13.4" r="2.3"/><circle cx="27.5" cy="-24.3" r="2.3"/>
<circle cx="46" cy="-31.6" r="2.3"/><circle cx="51" cy="-26.7" r="2.3"/><circle cx="48.5" cy="-24.3" r="2.3"/><circle cx="45" cy="-21.9" r="2.3"/><circle cx="52" cy="-14.6" r="2.3"/><circle cx="48.5" cy="-24.3" r="2.3"/>
<circle cx="57" cy="-34" r="2.3"/><circle cx="62" cy="-31.6" r="2.3"/><circle cx="59.5" cy="-26.7" r="2.3"/><circle cx="56" cy="-24.3" r="2.3"/><circle cx="63" cy="-19.4" r="2.3"/><circle cx="59.5" cy="-19.4" r="2.3"/>
<circle cx="77" cy="-43.7" r="2.3"/><circle cx="82" cy="-42.5" r="2.3"/><circle cx="79.5" cy="-24.3" r="2.3"/><circle cx="76" cy="-12.2" r="2.3"/><circle cx="83" cy="-7.3" r="2.3"/><circle cx="79.5" cy="-9.7" r="2.3"/>
<circle cx="88" cy="-43.7" r="2.3"/><circle cx="93" cy="-48.6" r="2.3"/><circle cx="90.5" cy="-24.3" r="2.3"/><circle cx="87" cy="-19.4" r="2.3"/><circle cx="94" cy="-12.2" r="2.3"/><circle cx="90.5" cy="-17" r="2.3"/>
<circle cx="109" cy="-48.6" r="2.3"/><circle cx="114" cy="-41.3" r="2.3"/><circle cx="111.5" cy="-24.3" r="2.3"/><circle cx="108" cy="-14.6" r="2.3"/><circle cx="115" cy="-7.3" r="2.3"/><circle cx="111.5" cy="-21.9" r="2.3"/>
<circle cx="120" cy="-42.5" r="2.3"/><circle cx="125" cy="-34" r="2.3"/><circle cx="122.5" cy="-29.2" r="2.3"/><circle cx="119" cy="-24.3" r="2.3"/><circle cx="126" cy="-14.6" r="2.3"/><circle cx="122.5" cy="-26.7" r="2.3"/>
<circle cx="139" cy="-30.4" r="2.3"/><circle cx="144" cy="-29.2" r="2.3"/><circle cx="141.5" cy="-24.3" r="2.3"/><circle cx="138" cy="-21.9" r="2.3"/><circle cx="145" cy="-19.4" r="2.3"/><circle cx="141.5" cy="-18.2" r="2.3"/>
<circle cx="150" cy="-10.9" r="2.3"/><circle cx="155" cy="-9.7" r="2.3"/><circle cx="152.5" cy="-8.5" r="2.3"/><circle cx="149" cy="-7.3" r="2.3"/><circle cx="156" cy="-6.1" r="2.3"/><circle cx="152.5" cy="-7.3" r="2.3"/>
<circle cx="172" cy="-29.2" r="2.3"/><circle cx="177" cy="-24.3" r="2.3"/><circle cx="174.5" cy="-23.1" r="2.3"/><circle cx="171" cy="-21.9" r="2.3"/><circle cx="178" cy="-19.4" r="2.3"/><circle cx="174.5" cy="-25.5" r="2.3"/>
<circle cx="183" cy="-34" r="2.3"/><circle cx="188" cy="-31.6" r="2.3"/><circle cx="185.5" cy="-29.2" r="2.3"/><circle cx="182" cy="-26.7" r="2.3"/><circle cx="189" cy="-24.3" r="2.3"/><circle cx="185.5" cy="-26.7" r="2.3"/>
<circle cx="201" cy="-34" r="2.3"/><circle cx="206" cy="-24.3" r="2.3"/><circle cx="203.5" cy="-21.9" r="2.3"/><circle cx="200" cy="-23.1" r="2.3"/><circle cx="207" cy="-20.7" r="2.3"/><circle cx="203.5" cy="-24.3" r="2.3"/>
<circle cx="212" cy="-38.9" r="2.3"/><circle cx="217" cy="-34" r="2.3"/><circle cx="214.5" cy="-29.2" r="2.3"/><circle cx="211" cy="-24.3" r="2.3"/><circle cx="218" cy="-21.9" r="2.3"/><circle cx="214.5" cy="-26.7" r="2.3"/>
<path class="ax" d="M136,-46.2H158"/><text x="147" y="-49" class="m t">***</text>
</g>
<text class="yl" transform="translate(310,730) rotate(-90)">Fold difference in transcript level</text>
<g class="it"><text x="359" y="813" class="e" transform="rotate(-45 359 813)">Cs</text><text x="391" y="813" class="e" transform="rotate(-45 391 813)">Fh</text><text x="422" y="813" class="e" transform="rotate(-45 422 813)">Acc</text><text x="454" y="813" class="e" transform="rotate(-45 454 813)">Fasn</text><text x="484" y="813" class="e" transform="rotate(-45 484 813)">Acly</text><text x="517" y="813" class="e" transform="rotate(-45 517 813)">Cox7a1</text><text x="546" y="813" class="e" transform="rotate(-45 546 813)">Atp5j</text></g>

<!-- ===== I ===== -->
<text x="162" y="853" class="m" style="font-size:12px">Male</text><text x="442" y="853" class="m" style="font-size:12px">Female</text>
<rect x="208" y="868" width="14" height="11" fill="#fff" stroke="#000" stroke-width="1.2"/><rect x="208" y="884" width="14" height="11" fill="#c8c8c8" stroke="#000" stroke-width="1.2"/>
<text x="230" y="878" class="t">WT (4)</text><text x="230" y="894" class="t">KO (4)</text>
<rect x="501" y="869" width="14" height="11" fill="#fff" stroke="#000" stroke-width="1.2"/><rect x="501" y="886" width="14" height="11" fill="#c8c8c8" stroke="#000" stroke-width="1.2"/>
<text x="523" y="879" class="t">WT (4)</text><text x="523" y="896" class="t">KO (4)</text>

<g transform="translate(53,1012)">
<path class="ax" d="M0,0.6V-148M-4,0H219M-4,-29.6H0M-4,-59.2H0M-4,-88.8H0M-4,-118.4H0M-4,-148H0M23,0V4M67,0V4M112,0V4M156,0V4M201,0V4"/>
<text x="-6" y="3.5" class="e">0</text><text x="-6" y="-26.1" class="e">1</text><text x="-6" y="-55.7" class="e">2</text><text x="-6" y="-85.3" class="e">3</text><text x="-6" y="-114.9" class="e">4</text><text x="-6" y="-144.5" class="e">5</text>
<g class="s" transform="scale(1,-29.6)">
<rect x="9" y="0" width="14" height="1" class="w"/><rect x="23" y="0" width="14" height="1.72" class="g"/>
<rect x="53" y="0" width="14" height="1" class="w"/><rect x="67" y="0" width="14" height="1.87" class="g"/>
<rect x="98" y="0" width="14" height="1" class="w"/><rect x="112" y="0" width="14" height="1.15" class="g"/>
<rect x="142" y="0" width="14" height="1" class="w"/><rect x="156" y="0" width="14" height="1.27" class="g"/>
<rect x="187" y="0" width="14" height="1" class="w"/><rect x="201" y="0" width="14" height="1.25" class="g"/>
<path d="M16,0.9V1.1M13,1.1H19M30,1.62V1.82M27,1.82H33M60,0.73V1.27M57,1.27H63M74,1.55V2.19M71,2.19H77M105,0.9V1.1M102,1.1H108M119,1.1V1.2M116,1.2H122M149,0.95V1.05M146,1.05H152M163,1.15V1.39M160,1.39H166M194,0.92V1.08M191,1.08H197M208,1.17V1.33M205,1.33H211"/>
</g>
<circle cx="13" cy="-35.5" r="2.3"/><circle cx="19" cy="-32.6" r="2.3"/><circle cx="16" cy="-28.1" r="2.3"/><circle cx="16" cy="-20.7" r="2.3"/>
<circle cx="27" cy="-53.3" r="2.3"/><circle cx="33" cy="-57.7" r="2.3"/><circle cx="30" cy="-48.8" r="2.3"/><circle cx="30" cy="-42.9" r="2.3"/>
<circle cx="57" cy="-41.4" r="2.3"/><circle cx="63" cy="-41.4" r="2.3"/><circle cx="60" cy="-20.7" r="2.3"/><circle cx="60" cy="-7.4" r="2.3"/>
<circle cx="74" cy="-82.9" r="2.3"/><circle cx="71" cy="-47.4" r="2.3"/><circle cx="77" cy="-47.4" r="2.3"/><circle cx="74" cy="-44.4" r="2.3"/>
<circle cx="102" cy="-35.5" r="2.3"/><circle cx="108" cy="-32.6" r="2.3"/><circle cx="105" cy="-28.1" r="2.3"/><circle cx="105" cy="-22.2" r="2.3"/>
<circle cx="116" cy="-35.5" r="2.3"/><circle cx="122" cy="-38.5" r="2.3"/><circle cx="119" cy="-32.6" r="2.3"/><circle cx="113" cy="-31.1" r="2.3"/>
<circle cx="146" cy="-32.6" r="2.3"/><circle cx="152" cy="-29.6" r="2.3"/><circle cx="149" cy="-28.1" r="2.3"/><circle cx="147" cy="-28.1" r="2.3"/>
<circle cx="163" cy="-47.4" r="2.3"/><circle cx="160" cy="-38.5" r="2.3"/><circle cx="166" cy="-35.5" r="2.3"/><circle cx="163" cy="-29.6" r="2.3"/>
<circle cx="191" cy="-34" r="2.3"/><circle cx="197" cy="-31.1" r="2.3"/><circle cx="194" cy="-28.1" r="2.3"/><circle cx="194" cy="-23.7" r="2.3"/>
<circle cx="205" cy="-42.9" r="2.3"/><circle cx="211" cy="-40" r="2.3"/><circle cx="208" cy="-35.5" r="2.3"/><circle cx="213" cy="-34" r="2.3"/>
<path class="ax" d="M9,-68.1H37M53,-91.8H81M142,-59.2H170"/>
<text x="23" y="-71" class="m t">**</text><text x="67" y="-94.5" class="m t">*</text><text x="156" y="-62" class="m t">*</text>
</g>
<text class="yl" transform="translate(23,938) rotate(-90)" style="font-size:11px">Relative metabolite level</text>
<g><text x="80" y="1023" class="e" transform="rotate(-45 80 1023)" style="font-size:11px">Citrate</text><text x="124" y="1023" class="e" transform="rotate(-45 124 1023)" style="font-size:11px">Alpha-ketoglutarate</text><text x="169" y="1023" class="e" transform="rotate(-45 169 1023)" style="font-size:11px">Succinate</text><text x="213" y="1023" class="e" transform="rotate(-45 213 1023)" style="font-size:11px">Fumarate</text><text x="258" y="1023" class="e" transform="rotate(-45 258 1023)" style="font-size:11px">Malate</text></g>

<g transform="translate(337,1012)">
<path class="ax" d="M0,0.6V-148M-4,0H221M-4,-29.6H0M-4,-59.2H0M-4,-88.8H0M-4,-118.4H0M-4,-148H0M22,0V4M66,0V4M111,0V4M154,0V4M199,0V4"/>
<text x="-6" y="3.5" class="e">0</text><text x="-6" y="-26.1" class="e">1</text><text x="-6" y="-55.7" class="e">2</text><text x="-6" y="-85.3" class="e">3</text><text x="-6" y="-114.9" class="e">4</text><text x="-6" y="-144.5" class="e">5</text>
<g class="s" transform="scale(1,-29.6)">
<rect x="8" y="0" width="14" height="1" class="w"/><rect x="22" y="0" width="14" height="2.75" class="g"/>
<rect x="52" y="0" width="14" height="1" class="w"/><rect x="66" y="0" width="14" height="1.33" class="g"/>
<rect x="97" y="0" width="14" height="1" class="w"/><rect x="111" y="0" width="14" height="1.45" class="g"/>
<rect x="140" y="0" width="14" height="1" class="w"/><rect x="154" y="0" width="14" height="1.32" class="g"/>
<rect x="185" y="0" width="14" height="1" class="w"/><rect x="199" y="0" width="14" height="1.68" class="g"/>
<path d="M15,0.88V1.12M12,1.12H18M29,1.6V3.9M26,3.9H32M59,0.88V1.12M56,1.12H62M73,1.18V1.48M70,1.48H76M104,0.95V1.05M101,1.05H107M118,1.23V1.67M115,1.67H121M147,0.9V1.1M144,1.1H150M161,1.24V1.4M158,1.4H164M192,0.88V1.12M189,1.12H195M206,1.46V1.9M203,1.9H209"/>
</g>
<circle cx="12" cy="-38.5" r="2.3"/><circle cx="18" cy="-29.6" r="2.3"/><circle cx="15" cy="-26.6" r="2.3"/><circle cx="11" cy="-23.7" r="2.3"/>
<circle cx="29" cy="-74" r="2.3"/><circle cx="29" cy="-47.4" r="2.3"/><circle cx="29" cy="-29.6" r="2.3"/>
<circle cx="56" cy="-35.5" r="2.3"/><circle cx="62" cy="-32.6" r="2.3"/><circle cx="59" cy="-29.6" r="2.3"/><circle cx="59" cy="-22.2" r="2.3"/>
<circle cx="73" cy="-48.8" r="2.3"/><circle cx="70" cy="-44.4" r="2.3"/><circle cx="76" cy="-38.5" r="2.3"/><circle cx="73" cy="-35.5" r="2.3"/>
<circle cx="101" cy="-31.1" r="2.3"/><circle cx="107" cy="-29.6" r="2.3"/><circle cx="104" cy="-29.6" r="2.3"/><circle cx="104" cy="-28.1" r="2.3"/>
<circle cx="115" cy="-56.2" r="2.3"/><circle cx="121" cy="-53.3" r="2.3"/><circle cx="118" cy="-38.5" r="2.3"/><circle cx="118" cy="-32.6" r="2.3"/>
<circle cx="144" cy="-35.5" r="2.3"/><circle cx="150" cy="-32.6" r="2.3"/><circle cx="147" cy="-26.6" r="2.3"/><circle cx="143" cy="-25.2" r="2.3"/>
<circle cx="158" cy="-42.9" r="2.3"/><circle cx="164" cy="-41.4" r="2.3"/><circle cx="161" cy="-40" r="2.3"/><circle cx="157" cy="-38.5" r="2.3"/>
<circle cx="189" cy="-38.5" r="2.3"/><circle cx="195" cy="-29.6" r="2.3"/><circle cx="192" cy="-26.6" r="2.3"/><circle cx="192" cy="-17.8" r="2.3"/>
<circle cx="203" cy="-62.2" r="2.3"/><circle cx="209" cy="-59.2" r="2.3"/><circle cx="206" cy="-44.4" r="2.3"/><circle cx="202" cy="-41.4" r="2.3"/>
<path class="ax" d="M97,-71H125M140,-59.2H168M185,-74H213"/>
<text x="111" y="-74" class="m t">*</text><text x="154" y="-62" class="m t">*</text><text x="199" y="-77" class="m t">*</text>
</g>
<text class="yl" transform="translate(309,938) rotate(-90)" style="font-size:11px">Relative metabolite level</text>
<g><text x="363" y="1023" class="e" transform="rotate(-45 363 1023)" style="font-size:11px">Citrate</text><text x="407" y="1023" class="e" transform="rotate(-45 407 1023)" style="font-size:11px">Alpha-ketoglutarate</text><text x="452" y="1023" class="e" transform="rotate(-45 452 1023)" style="font-size:11px">Succinate</text><text x="495" y="1023" class="e" transform="rotate(-45 495 1023)" style="font-size:11px">Fumarate</text><text x="540" y="1023" class="e" transform="rotate(-45 540 1023)" style="font-size:11px">Malate</text></g>
</svg>
</body></html>
